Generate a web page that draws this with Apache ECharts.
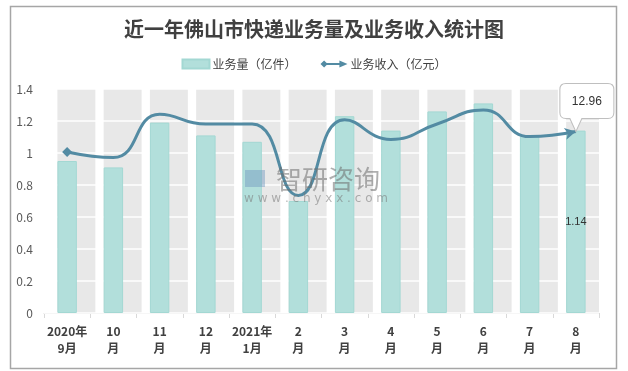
<!DOCTYPE html>
<html><head><meta charset="utf-8">
<script src="https://cdn.jsdelivr.net/npm/echarts@6/dist/echarts.min.js"></script>
<style>html,body{margin:0;padding:0;background:#fff}#c{width:628px;height:371px}</style>
</head><body><div id="c"></div>
<script>
var categories = ['2020年\n9月','10\n月','11\n月','12\n月','2021年\n1月','2\n月','3\n月','4\n月','5\n月','6\n月','7\n月','8\n月'];
var volume = [0.95, 0.91, 1.19, 1.11, 1.07, 0.70, 1.23, 1.14, 1.26, 1.31, 1.11, 1.14];
var revenue = [11.5, 11.1, 14.2, 13.5, 13.5, 8.4, 13.8, 12.4, 13.5, 14.5, 12.6, 12.96];
var yTicks = [0, 0.2, 0.4, 0.6, 0.8, 1, 1.2, 1.4];
var bgValues = categories.map(function(){ return yTicks[yTicks.length-1]; });

var chart = echarts.init(document.getElementById('c'));
var font = '"Noto Sans CJK SC","Microsoft YaHei",sans-serif';
var lineColor = '#538ba3';
var last = volume.length - 1;

var volData = volume.map(function(v, i){
  return i === last ? {value: v, label: {show: true, position: 'inside', color: '#333', fontSize: 11, fontFamily: 'Liberation Sans, Arial'}} : v;
});
var revData = revenue.map(function(v, i){
  if (i === 0) return {value: v, symbol: 'diamond', symbolSize: 10};
  if (i === last) return {value: v, symbol: 'arrow', symbolSize: [9, 11], symbolRotate: -78};
  return {value: v, symbol: 'none'};
});

chart.setOption({
  animation: false,
  textStyle: {fontFamily: font},
  title: {
    text: '近一年佛山市快递业务量及业务收入统计图',
    left: 'center', top: 14,
    textStyle: {fontSize: 20, fontWeight: 'bold', color: '#404040', fontFamily: font}
  },
  legend: {
    top: 53, left: 'center',
    itemGap: 24, itemWidth: 27, itemHeight: 9,
    textStyle: {fontSize: 12, color: '#404040', padding: [0,0,0,-2]},
    data: [
      {name: '业务量（亿件）', icon: 'rect'},
      {name: '业务收入（亿元）', icon: 'path://M0,5 L4,1 L8,5 L4,9 Z M6,4 L22,4 L22,6 L6,6 Z M21,1 L30,5 L21,9 Z', itemStyle: {color: lineColor}}
    ]
  },
  graphic: [
    {type: 'rect', left: 8, top: 4, shape: {width: 606, height: 362}, style: {fill: 'none', stroke: '#a6a6a6', lineWidth: 1.5}, silent: true, z: 100},
    {type: 'text', left: 276, top: 166, z: 50, silent: true, style: {text: '智研咨询', fontSize: 26, fill: 'rgba(110,110,110,0.55)', fontFamily: font}},
    {type: 'text', left: 244, top: 193, z: 50, silent: true, style: {text: 'w w w . c h y x x . c o m', fontSize: 12, fill: 'rgba(120,120,120,0.55)', fontFamily: 'DejaVu Sans'}},
    {type: 'rect', left: 245, top: 170, z: 50, silent: true, shape: {width: 20, height: 17}, style: {fill: 'rgba(110,150,190,0.45)'}}
  ],
  grid: {left: 44, right: 29, top: 89, bottom: 58},
  xAxis: {
    type: 'category', data: categories,
    axisLine: {lineStyle: {color: '#d9d9d9'}},
    axisTick: {show: true, length: 5, lineStyle: {color: '#d9d9d9'}},
    axisLabel: {fontSize: 12, fontWeight: 'bold', color: '#404040', lineHeight: 17, margin: 10, interval: 0}
  },
  yAxis: [
    {type: 'value', min: 0, max: 1.4, interval: 0.2, z: 1,
     axisLine: {show: false}, axisTick: {show: false},
     axisLabel: {fontSize: 12, color: '#595959', margin: 11},
     splitLine: {lineStyle: {color: '#ffffff', width: 1.5}}},
    {type: 'value', min: 0, max: 16, show: false, splitLine: {show: false}}
  ],
  series: [
    {name: 'bg', type: 'bar', data: bgValues, barWidth: '82%', barGap: '-100%', z: 0,
     itemStyle: {color: '#e8e8e8'}, silent: true, legendHoverLink: false},
    {name: '业务量（亿件）', type: 'bar', data: volData, barWidth: '42%', z: 2,
     itemStyle: {color: '#b2dfdb', borderColor: '#a3d8d3', borderWidth: 1}},
    {name: '业务收入（亿元）', type: 'line', yAxisIndex: 1, data: revData, smooth: 0.5, z: 3,
     showAllSymbol: true,
     lineStyle: {color: lineColor, width: 3}, itemStyle: {color: lineColor},
     markPoint: {
       symbol: 'path://M6,0 L48,0 Q54,0 54,6 L54,29 Q54,35 48,35 L22,35 L16,48 L10,35 L6,35 Q0,35 0,29 L0,6 Q0,0 6,0 Z',
       symbolSize: [54, 48], symbolOffset: [11, -24], symbolKeepAspect: false,
       itemStyle: {color: '#ffffff', borderColor: '#bfbfbf', borderWidth: 1},
       label: {show: true, position: 'inside', offset: [0, -6], color: '#333', fontSize: 12, fontFamily: 'Liberation Sans, Arial', formatter: function(p){ return p.value; }},
       data: [{coord: [last, revenue[last]], value: revenue[last]}]
     }}
  ]
});
</script></body></html>
